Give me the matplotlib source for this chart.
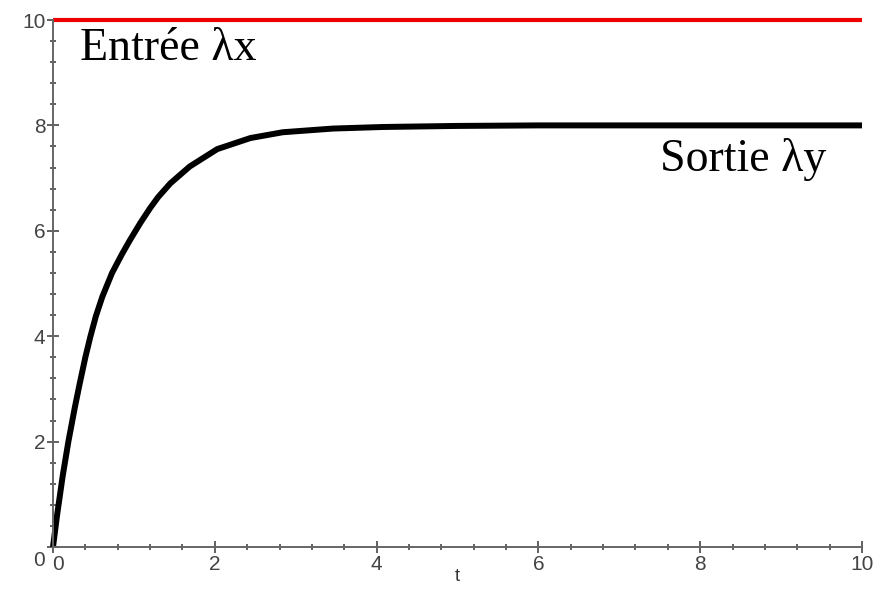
import matplotlib
matplotlib.use("Agg")
import matplotlib.pyplot as plt
from matplotlib.ticker import MultipleLocator
import matplotlib.transforms as mtransforms

# valeurs
t_sortie = [0.0, 0.05, 0.12, 0.19, 0.27, 0.33, 0.40, 0.46, 0.53, 0.61, 0.73, 0.85,
            0.95, 1.08, 1.2, 1.3, 1.45, 1.69, 2.03, 2.44, 2.84, 3.46, 4.08,
            5.0, 6.0, 7.0, 8.0, 9.0, 10.0]
y_sortie = [0.0, 0.6, 1.35, 2.0, 2.65, 3.1, 3.6, 3.98, 4.38, 4.75, 5.2, 5.55,
            5.82, 6.15, 6.43, 6.64, 6.9, 7.22, 7.55, 7.76, 7.87, 7.94, 7.97,
            7.99, 8.0, 8.0, 8.0, 8.0, 8.0]
t_entree = [0.0, 10.0]
y_entree = [10.0, 10.0]
ticks = [0, 2, 4, 6, 8, 10]

fig = plt.figure(figsize=(8.86, 5.93), dpi=100)
ax = fig.add_axes([53/886, 46/593, 809/886, 527/593])

ax.plot(t_entree, y_entree, color="#ee0000", lw=3, solid_capstyle="butt", clip_on=False)
ax.plot(t_sortie, y_sortie, color="black", lw=4.3, solid_capstyle="butt",
        solid_joinstyle="round", clip_on=False)

ax.set_xlim(0, 10)
ax.set_ylim(0, 10)
for s in ["top", "right"]:
    ax.spines[s].set_visible(False)
for s in ["left", "bottom"]:
    ax.spines[s].set_color("#666666")
    ax.spines[s].set_linewidth(1.4)

ax.set_xticks(ticks)
ax.set_yticks(ticks)
ax.xaxis.set_minor_locator(MultipleLocator(0.4))
ax.yaxis.set_minor_locator(MultipleLocator(0.4))
ax.tick_params(which="major", direction="inout", length=9, width=1.3, color="#555555",
               labelsize=15, labelcolor="#444444", pad=1)
ax.tick_params(which="minor", direction="inout", length=4, width=1.3, color="#555555")
for lab in ax.get_xticklabels() + ax.get_yticklabels():
    lab.set_family("Liberation Sans")

# décalage des deux "0" comme sur l'original
fig.canvas.draw()
ax.get_xticklabels()[0].set_transform(ax.get_xticklabels()[0].get_transform() +
                                      mtransforms.ScaledTranslation(5/100, 0, fig.dpi_scale_trans))
ax.get_yticklabels()[0].set_transform(ax.get_yticklabels()[0].get_transform() +
                                      mtransforms.ScaledTranslation(0, -12/100, fig.dpi_scale_trans))

ax.set_xlabel("t", family="Liberation Sans", fontsize=13, color="#333333", labelpad=-4)

ax.text(0.33, 9.85, "Entrée λx", family="Liberation Serif", fontsize=33, va="top", ha="left")
ax.text(7.5, 7.13, "Sortie λy", family="Liberation Serif", fontsize=33, va="baseline", ha="left")

fig.savefig("out.png", dpi=100)
